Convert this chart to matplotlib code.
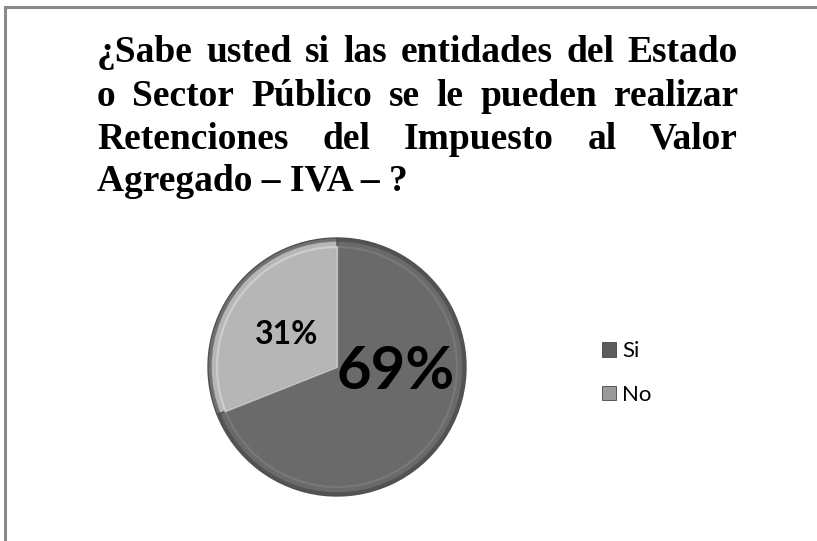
import matplotlib
matplotlib.use("Agg")
import matplotlib.pyplot as plt
from matplotlib import font_manager
from matplotlib.lines import Line2D
from matplotlib.patches import Wedge, Patch, Circle

W, H = 817, 541
DPI = 100

title_lines = [
    "¿Sabe usted si las entidades del Estado",
    "o Sector Público se le pueden realizar",
    "Retenciones del Impuesto al Valor",
    "Agregado – IVA – ?",
]
categories = ["Si", "No"]
values = [69, 31]
labels_pct = ["69%", "31%"]
colors = ["#6a6a6a", "#b6b6b6"]
legend_colors = ["#5c5c5c", "#9a9a9a"]

# make sure the serif face exists (raises otherwise)
font_manager.findfont(font_manager.FontProperties(family="Liberation Serif", weight="bold"),
                      fallback_to_default=False)

fig = plt.figure(figsize=(W / DPI, H / DPI), dpi=DPI)
fig.patch.set_facecolor("white")

def fx(px):
    return px / W

def fy(py):
    return 1 - py / H

# frame lines
fig.add_artist(Line2D([fx(5), fx(5)], [fy(7), fy(541)], color="#8a8a8a", lw=2.2))
fig.add_artist(Line2D([fx(5), fx(817)], [fy(7), fy(7)], color="#8a8a8a", lw=2.2))

# justified title
left_px, right_px = 97, 738
baselines = [62, 106, 149, 191]
tfont = dict(family=["Liberation Serif", "DejaVu Serif"], weight="bold", size=27)
renderer = fig.canvas.get_renderer()
for i, line in enumerate(title_lines):
    words = line.split(" ")
    y = fy(baselines[i])
    if i == len(title_lines) - 1:
        fig.text(fx(left_px), y, line, ha="left", va="baseline", **tfont)
        continue
    arts = [fig.text(0, y, w, ha="left", va="baseline", **tfont) for w in words]
    widths = [a.get_window_extent(renderer).width for a in arts]
    gap = (right_px - left_px - sum(widths)) / (len(words) - 1)
    x = left_px
    for a, wd in zip(arts, widths):
        a.set_x(fx(x))
        x += wd + gap

# pie
cx, cy, r = 337, 367, 129
ax = fig.add_axes([fx(cx - r), fy(cy + r), (2 * r) / W, (2 * r) / H])
wedges, _ = ax.pie(values, colors=colors, startangle=90, counterclock=False,
                   radius=1.0,
                   wedgeprops=dict(edgecolor="#555555", linewidth=1.0))
ax.set_xlim(-1.0, 1.0)
ax.set_ylim(-1.0, 1.0)
ax.set_aspect("auto")
ax.axis("off")

# bevel effect: dark outer rim + inner highlight
ax.add_patch(Circle((0, 0), 0.985, facecolor="none", edgecolor="#444444", lw=2.5, alpha=0.6))
for wdg, c in zip(wedges, ["#7c7c7c", "#d4d4d4"]):
    ax.add_patch(Wedge((0, 0), 0.93, wdg.theta1, wdg.theta2,
                       facecolor="none", edgecolor=c, lw=1.6, alpha=0.8))

fig.text(fx(396), fy(372), labels_pct[0], ha="center", va="center",
         family="Lato", weight="bold", fontsize=43)
fig.text(fx(287), fy(335), labels_pct[1], ha="center", va="center",
         family="Lato", weight="bold", fontsize=23)

# legend
handles = [Patch(facecolor=c, edgecolor="#444444", lw=0.6) for c in legend_colors]
leg = fig.legend(handles, categories, loc="center left",
                 bbox_to_anchor=(fx(602), fy(373)), frameon=False,
                 prop=dict(family="Lato", size=16), handlelength=0.62,
                 handleheight=0.62, handletextpad=0.3, labelspacing=1.05,
                 borderpad=0, borderaxespad=0)

fig.savefig("out.png", dpi=DPI)
